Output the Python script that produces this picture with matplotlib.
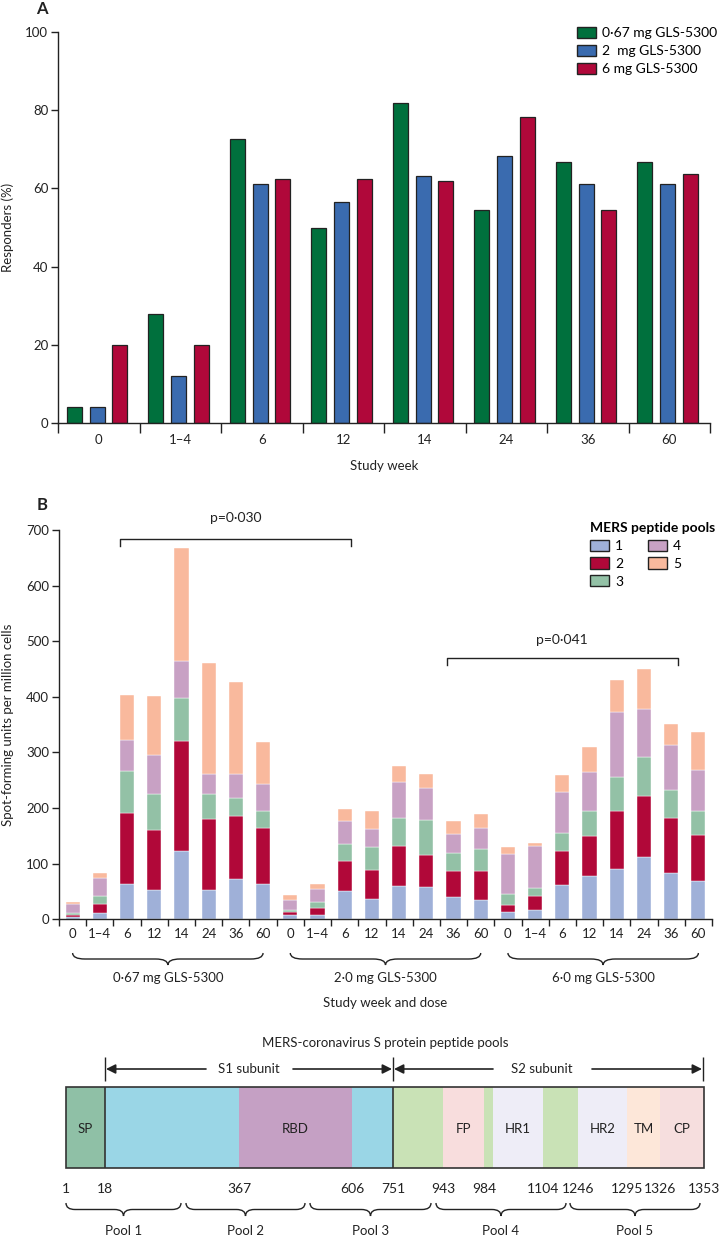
import numpy as np
import matplotlib.pyplot as plt
from matplotlib.path import Path
from matplotlib.patches import PathPatch, Rectangle, Patch

plt.rcParams['font.family'] = ['Lato', 'DejaVu Sans']
plt.rcParams['font.size'] = 9.5

# ---- panel A: responders by study week ----
weeks = ['0', '1–4', '6', '12', '14', '24', '36', '60']
dose_a = ['0·67 mg GLS-5300', '2  mg GLS-5300', '6 mg GLS-5300']
resp_067 = [4, 28, 72.7, 50, 81.8, 54.5, 66.7, 66.7]
resp_2 = [4, 12, 61, 56.5, 63.2, 68.4, 61, 61]
resp_6 = [20, 20, 62.5, 62.5, 61.9, 78.3, 54.5, 63.6]

# ---- panel B: spot-forming units per pool, 8 weeks x 3 doses ----
dose_b = ['0·67 mg GLS-5300', '2·0 mg GLS-5300', '6·0 mg GLS-5300']
pool_names = ['1', '2', '3', '4', '5']
pool1 = [5, 11, 63, 53, 123, 53, 73, 63,
         8, 8, 51, 37, 60, 58, 40, 35,
         12.5, 16, 62, 77, 91, 112, 84, 68]
pool2 = [3, 16.5, 128, 108, 198, 128, 113, 102,
         4.5, 12.5, 53, 52, 72, 58, 47.5, 52,
         13.5, 25, 60, 73, 103, 109, 98, 83]
pool3 = [3, 14.5, 75, 64, 77, 45, 32, 29,
         4.5, 11.5, 32, 41, 51, 63, 31.5, 39,
         19, 16, 33, 44, 62, 70, 51, 43]
pool4 = [16, 33, 57, 71, 67, 36, 44, 49,
         18, 23, 41, 32, 63, 57, 35, 39,
         73, 74, 73, 70, 116, 88, 81, 75]
pool5 = [5, 8, 80, 106, 202, 199, 164, 76,
         8, 9, 21, 33, 29, 26, 22, 25,
         12, 6, 31, 46, 58, 71, 37, 67]
pvals = ['p=0·030', 'p=0·041']

# ---- bottom schematic ----
seg_names = ['SP', '', 'RBD', '', '', 'FP', '', 'HR1', '', 'HR2', 'TM', 'CP']
residues = ['1', '18', '367', '606', '751', '943', '984', '', '1104', '1246', '1295', '1326', '1353']
pools_s = ['Pool 1', 'Pool 2', 'Pool 3', 'Pool 4', 'Pool 5']

c_a = ['#00703d', '#3a6baf', '#b0083a']
c_b = ['#9fb0d8', '#b10839', '#93c1a6', '#c8a1c4', '#f9b99d']
dark = '#222222'

W, H = 719, 1239
fig = plt.figure(figsize=(W / 100, H / 100), dpi=100)


def fx(px):
    return px / W


def fy(py):
    return 1 - py / H


def brace(ax, x0, x1, ytop, ytip, r, transform, lw=1.0):
    ym = (ytop + ytip) / 2
    xm = (x0 + x1) / 2
    verts = [(x0, ytop), (x0, ym), (x0 + r, ym),
             (xm - r, ym), (xm, ym), (xm, ytip),
             (xm, ym), (xm + r, ym),
             (x1 - r, ym), (x1, ym), (x1, ytop)]
    codes = [Path.MOVETO, Path.CURVE3, Path.CURVE3,
             Path.LINETO, Path.CURVE3, Path.CURVE3,
             Path.CURVE3, Path.CURVE3,
             Path.LINETO, Path.CURVE3, Path.CURVE3]
    ax.add_patch(PathPatch(Path(verts, codes), fc='none', ec=dark, lw=lw,
                           transform=transform, clip_on=False))


def style_axes(ax):
    for s in ['top', 'right']:
        ax.spines[s].set_visible(False)
    for s in ['left', 'bottom']:
        ax.spines[s].set_linewidth(1.0)
        ax.spines[s].set_color(dark)
    ax.tick_params(axis='both', which='major', width=1.0, color=dark, labelcolor=dark)
    ax.tick_params(axis='y', length=5, pad=2)


# ================= Panel A =================
axA = fig.add_axes([fx(58), fy(423), fx(710 - 58), (423 - 32) / H])
style_axes(axA)
x = np.arange(len(weeks))
offsets = [0.2, 0.48, 0.76]
for k, vals in enumerate([resp_067, resp_2, resp_6]):
    axA.bar(x + offsets[k], vals, width=0.184, color=c_a[k], edgecolor=dark, linewidth=0.9,
            label=dose_a[k])
axA.set_xlim(0, len(weeks))
axA.set_ylim(0, 100)
axA.set_yticks(np.arange(0, 101, 20))
axA.set_xticks(np.arange(len(weeks) + 1))
axA.set_xticklabels([])
axA.set_xticks(x + 0.5, minor=True)
axA.set_xticklabels(weeks, minor=True)
axA.tick_params(axis='x', which='major', length=7)
axA.tick_params(axis='x', which='minor', length=0, pad=8, labelcolor=dark)
axA.set_xlabel('Study week', labelpad=10, color=dark)
fig.text(fx(8), fy(227), 'Responders (%)', rotation=90, ha='center', va='center', color=dark)
fig.text(fx(42), fy(9), 'A', fontsize=12, fontweight='bold', ha='center', va='center', color=dark)
hA = [Patch(facecolor=c_a[k], edgecolor=dark, linewidth=1.0) for k in range(3)]
axA.legend(hA, dose_a, loc='upper left', bbox_to_anchor=(fx(577), fy(27)),
           bbox_transform=fig.transFigure, frameon=False, fontsize=10, borderpad=0,
           handlelength=1.35, handleheight=0.85, handletextpad=0.45, labelspacing=0.4,
           borderaxespad=0)

# ================= Panel B =================
axB = fig.add_axes([fx(59), fy(919.3), fx(712 - 59), (919.3 - 530) / H])
style_axes(axB)
n = len(pool1)
xb = np.arange(n) + 0.5
bottom = np.zeros(n)
for k, vals in enumerate([pool1, pool2, pool3, pool4, pool5]):
    axB.bar(xb, vals, width=0.52, bottom=bottom, color=c_b[k], edgecolor='white',
            linewidth=0.3, label=pool_names[k])
    bottom += np.array(vals)
axB.set_xlim(0, n)
axB.set_ylim(0, 700)
axB.set_yticks(np.arange(0, 701, 100))
axB.set_xticks(np.arange(n + 1))
axB.set_xticklabels([])
axB.set_xticks(xb, minor=True)
axB.set_xticklabels(weeks * 3, minor=True)
axB.tick_params(axis='x', which='major', length=5)
axB.tick_params(axis='x', which='minor', length=0, pad=6, labelcolor=dark)
fig.text(fx(8), fy(725), 'Spot-forming units per million cells', rotation=90,
         ha='center', va='center', color=dark)
fig.text(fx(42), fy(505), 'B', fontsize=12, fontweight='bold', ha='center', va='center', color=dark)

xt = axB.get_xaxis_transform()
hgt = 919.3 - 530
for g in range(3):
    x0 = g * 8 + 0.5
    x1 = g * 8 + 7.5
    brace(axB, x0, x1, (919.3 - 953) / hgt, (919.3 - 965) / hgt, 0.45, xt)
    axB.text((x0 + x1) / 2, (919.3 - 978) / hgt, dose_b[g], transform=xt,
             ha='center', va='center', color=dark)
axB.text(12, (919.3 - 1003) / hgt, 'Study week and dose', transform=xt,
         ha='center', va='center', color=dark)

# significance brackets
for (xa, xz, yb, ydrop, ytxt, lab) in [(2.25, 10.75, 684, 671, 721, pvals[0]),
                                        (14.25, 22.75, 470, 457, 502, pvals[1])]:
    axB.plot([xa, xa, xz, xz], [ydrop, yb, yb, ydrop], color=dark, lw=1.0, clip_on=False)
    axB.text((xa + xz) / 2, ytxt, lab, ha='center', va='center', fontsize=10,
             color=dark, clip_on=False)

hB = [Patch(facecolor=c_b[k], edgecolor=dark, linewidth=1.0) for k in range(5)]
legB = axB.legend(hB, pool_names, loc='upper left', bbox_to_anchor=(fx(590), fy(522)),
                  bbox_transform=fig.transFigure, frameon=False, fontsize=10, ncol=2,
                  title='MERS peptide pools', title_fontproperties={'weight': 'bold', 'size': 10},
                  alignment='left', borderpad=0, borderaxespad=0,
                  handlelength=1.35, handleheight=0.85, handletextpad=0.45,
                  labelspacing=0.4, columnspacing=1.8)

# ================= Bottom schematic =================
axD = fig.add_axes([0, 0, 1, (H - 1020) / H])
axD.set_xlim(0, W)
axD.set_ylim(H, 1020)
axD.axis('off')
edges = np.array([66, 105, 239, 352, 393, 443, 484, 493, 543, 578, 627, 660, 704])
seg_cols = ['#8fc0a6', '#9ad6e6', '#c5a0c4', '#9ad6e6', '#c9e2b6', '#f8dddd',
            '#c9e2b6', '#eeedf7', '#c9e2b6', '#eeedf7', '#fde7d9', '#f6dede']
ytop, ybot = 1087, 1168
axD.barh((ytop + ybot) / 2, np.diff(edges), left=edges[:-1], height=ybot - ytop,
         color=seg_cols, edgecolor='none')
axD.add_patch(Rectangle((edges[0], ytop), edges[-1] - edges[0], ybot - ytop,
                        fc='none', ec='#333333', lw=1.2))
axD.vlines([105, 393], ytop, ybot, color='#333333', lw=1.2)
for i, nm in enumerate(seg_names):
    if nm:
        axD.text((edges[i] + edges[i + 1]) / 2, 1129, nm, ha='center', va='center', color=dark)
for e, r in zip(edges, residues):
    if r:
        axD.text(e, 1189, r, ha='center', va='center', color=dark, fontsize=10)

axD.text(385, 1043, 'MERS-coronavirus S protein peptide pools', ha='center', va='center',
         color=dark)
ya = 1069
axD.vlines([105, 393, 703], 1057, 1081, color=dark, lw=1.0)
arrow = dict(arrowstyle='-|>', color=dark, lw=1.2, mutation_scale=14, shrinkA=0, shrinkB=0)
axD.annotate('', xy=(106, ya), xytext=(206, ya), arrowprops=arrow)
axD.annotate('', xy=(392, ya), xytext=(293, ya), arrowprops=arrow)
axD.annotate('', xy=(394, ya), xytext=(493, ya), arrowprops=arrow)
axD.annotate('', xy=(702, ya), xytext=(592, ya), arrowprops=arrow)
axD.text(249, ya, 'S1 subunit', ha='center', va='center', color=dark)
axD.text(542, ya, 'S2 subunit', ha='center', va='center', color=dark)

pool_spans = [(66, 181), (186, 305), (310, 431), (436, 566), (570, 700)]
for (a, b), lab in zip(pool_spans, pools_s):
    brace(axD, a, b, 1203, 1216, 9, axD.transData)
    axD.text((a + b) / 2, 1231, lab, ha='center', va='center', color=dark)

fig.savefig('out.png', dpi=100)
